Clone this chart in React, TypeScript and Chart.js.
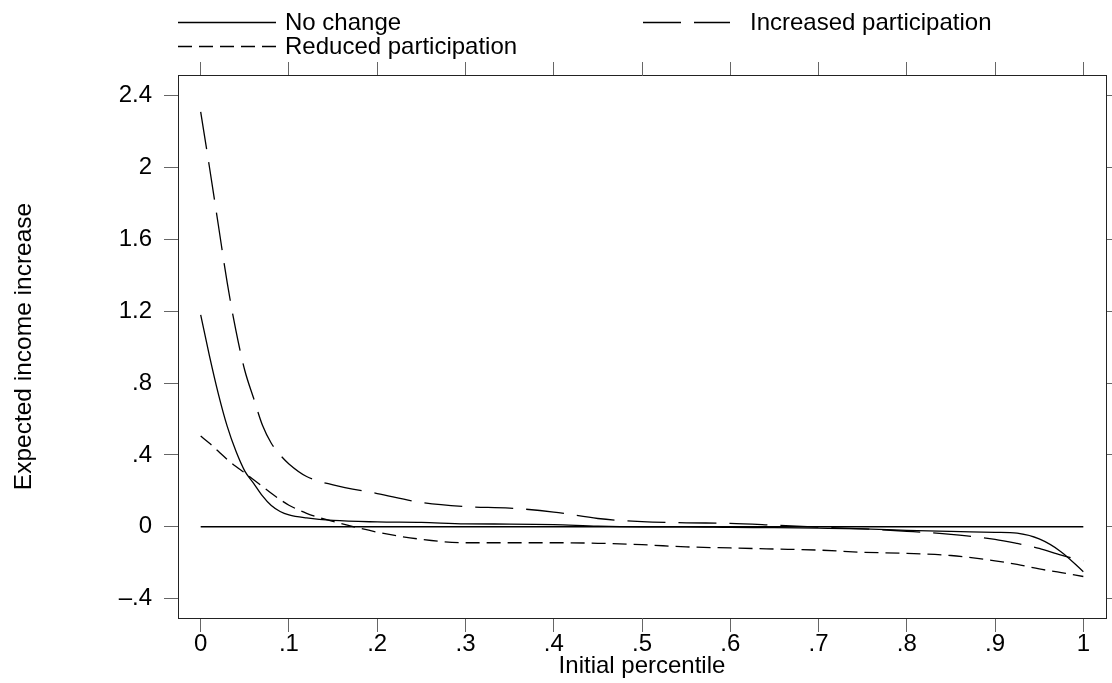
import React, { useEffect, useRef } from 'react';
import { Chart, registerables } from 'chart.js';

Chart.register(...registerables);

// ---- data ----
const percentiles = [0, 0.01, 0.02, 0.03, 0.04, 0.05, 0.06, 0.07, 0.08, 0.09, 0.1, 0.12, 0.15, 0.2, 0.25, 0.3, 0.35, 0.4, 0.45, 0.5, 0.55, 0.6, 0.65, 0.7, 0.75, 0.8, 0.85, 0.9, 0.925, 0.95, 0.975, 1];
const noChange = [1.18, 0.95, 0.74, 0.56, 0.42, 0.31, 0.242, 0.172, 0.118, 0.085, 0.066, 0.049, 0.035, 0.027, 0.024, 0.016, 0.015, 0.012, 0.003, 0.0, 0.0, -0.003, -0.005, -0.008, -0.012, -0.02, -0.026, -0.031, -0.036, -0.068, -0.14, -0.25];
const increased = [2.31, 2.0, 1.68, 1.36, 1.09, 0.87, 0.715, 0.565, 0.465, 0.4, 0.35, 0.28, 0.233, 0.185, 0.135, 0.112, 0.104, 0.082, 0.046, 0.028, 0.022, 0.019, 0.009, -0.002, -0.012, -0.025, -0.042, -0.07, -0.093, -0.12, -0.158, -0.19];
const reduced = [0.505, 0.465, 0.42, 0.375, 0.335, 0.3, 0.262, 0.224, 0.186, 0.151, 0.12, 0.075, 0.03, -0.03, -0.07, -0.089, -0.089, -0.089, -0.092, -0.1, -0.112, -0.118, -0.124, -0.13, -0.142, -0.148, -0.16, -0.19, -0.21, -0.235, -0.255, -0.277];
const zeroLineX = [0, 1];
const zeroLineY = [0, 0];

const seriesNames = ['No change', 'Increased participation', 'Reduced participation'];

const xTicks = [0, 0.1, 0.2, 0.3, 0.4, 0.5, 0.6, 0.7, 0.8, 0.9, 1];
const xTickLabels = ['0', '.1', '.2', '.3', '.4', '.5', '.6', '.7', '.8', '.9', '1'];
const yTicks = [-0.4, 0, 0.4, 0.8, 1.2, 1.6, 2, 2.4];
const yTickLabels = ['\u2013.4', '0', '.4', '.8', '1.2', '1.6', '2', '2.4'];

const xTitle = 'Initial percentile';
const yTitle = 'Expected income increase';

const FONT = "'Liberation Sans', Arial, Helvetica, sans-serif";
const FS = 24;

const legendPlugin = {
  id: 'stataLegend',
  afterDraw(chart: any) {
    const ctx = chart.ctx;
    const ds = chart.data.datasets;
    const slots = [
      { i: 0, x0: 178, x1: 276, tx: 285, y: 22.5 },
      { i: 1, x0: 643, x1: 730, tx: 750, y: 22.5 },
      { i: 2, x0: 178, x1: 276, tx: 285, y: 46.5 },
    ];
    ctx.save();
    slots.forEach((s) => {
      const d = ds[s.i];
      ctx.beginPath();
      ctx.strokeStyle = d.borderColor;
      ctx.lineWidth = d.borderWidth;
      ctx.setLineDash(d.borderDash || []);
      ctx.moveTo(s.x0, s.y);
      ctx.lineTo(s.x1, s.y);
      ctx.stroke();
      ctx.setLineDash([]);
      ctx.fillStyle = '#000';
      ctx.font = `${FS}px ${FONT}`;
      ctx.textAlign = 'left';
      ctx.textBaseline = 'middle';
      ctx.fillText(d.label, s.tx, s.y + 0.5);
    });
    ctx.restore();
  },
};

export default function App() {
  const ref = useRef<HTMLCanvasElement>(null);

  useEffect(() => {
    if (!ref.current) return;
    const pts = (ys: number[]) => percentiles.map((x, i) => ({ x, y: ys[i] }));
    const common = {
      borderColor: '#000',
      borderWidth: 1.3,
      pointRadius: 0,
      fill: false,
      cubicInterpolationMode: 'monotone' as const,
    };
    const setXTicks = (s: any) => {
      s.ticks = xTicks.map((v) => ({ value: v }));
    };
    const setYTicks = (s: any) => {
      s.ticks = yTicks.map((v) => ({ value: v }));
    };
    const xMin = -0.0257, xMax = 1.0257, yMin = -0.508, yMax = 2.515;

    const chart = new Chart(ref.current, {
      type: 'line',
      data: {
        datasets: [
          { ...common, label: seriesNames[0], data: pts(noChange) },
          { ...common, label: seriesNames[1], data: pts(increased), borderDash: [38, 13] },
          { ...common, label: seriesNames[2], data: pts(reduced), borderDash: [14, 7] },
          { ...common, label: 'zero', data: zeroLineX.map((x, i) => ({ x, y: zeroLineY[i] })) },
        ],
      },
      options: {
        animation: false,
        responsive: false,
        devicePixelRatio: 1,
        layout: { padding: 0 },
        plugins: { legend: { display: false }, tooltip: { enabled: false } },
        scales: {
          x: {
            type: 'linear',
            position: 'bottom',
            min: xMin,
            max: xMax,
            afterBuildTicks: setXTicks,
            afterFit: (s: any) => { s.height = 65; },
            grid: { drawOnChartArea: false, drawTicks: true, tickLength: 14, tickColor: '#666', tickWidth: 1 },
            border: { display: true, color: '#222', width: 1 },
            ticks: {
              autoSkip: false,
              maxRotation: 0,
              padding: 0,
              color: '#000',
              font: { family: FONT, size: FS, lineHeight: 1 },
              callback: (_v: any, i: number) => xTickLabels[i],
            },
            title: { display: true, text: xTitle, color: '#000', font: { family: FONT, size: FS, lineHeight: 1.2 }, padding: { top: 0, bottom: 2 } },
          },
          x2: {
            type: 'linear',
            axis: 'x',
            position: 'top',
            min: xMin,
            max: xMax,
            afterBuildTicks: setXTicks,
            afterFit: (s: any) => { s.height = 75; },
            grid: { drawOnChartArea: false, drawTicks: true, tickLength: 13, tickColor: '#666', tickWidth: 1 },
            border: { display: true, color: '#222', width: 1 },
            ticks: { display: false },
          },
          y: {
            type: 'linear',
            position: 'left',
            min: yMin,
            max: yMax,
            afterBuildTicks: setYTicks,
            afterFit: (s: any) => { s.width = 178; },
            grid: { drawOnChartArea: false, drawTicks: true, tickLength: 14, tickColor: '#666', tickWidth: 1 },
            border: { display: true, color: '#222', width: 1 },
            ticks: {
              autoSkip: false,
              padding: 12,
              color: '#000',
              font: { family: FONT, size: FS, lineHeight: 1 },
              callback: (_v: any, i: number) => yTickLabels[i],
            },
            title: { display: true, text: yTitle, color: '#000', font: { family: FONT, size: 24.5, lineHeight: 1.2 }, padding: { top: 10, bottom: 0 } },
          },
          y2: {
            type: 'linear',
            axis: 'y',
            position: 'right',
            min: yMin,
            max: yMax,
            afterBuildTicks: setYTicks,
            afterFit: (s: any) => { s.width = 6; },
            grid: { drawOnChartArea: false, drawTicks: true, tickLength: 14, tickColor: '#666', tickWidth: 1 },
            border: { display: true, color: '#222', width: 1 },
            ticks: { display: false },
          },
        },
      } as any,
      plugins: [legendPlugin],
    });
    return () => chart.destroy();
  }, []);

  return (
    <div style={{ position: 'fixed', left: 0, top: 0, width: 1112, height: 683, background: '#fff' }}>
      <canvas ref={ref} width={1112} height={683} style={{ display: 'block', width: 1112, height: 683 }} />
    </div>
  );
}
